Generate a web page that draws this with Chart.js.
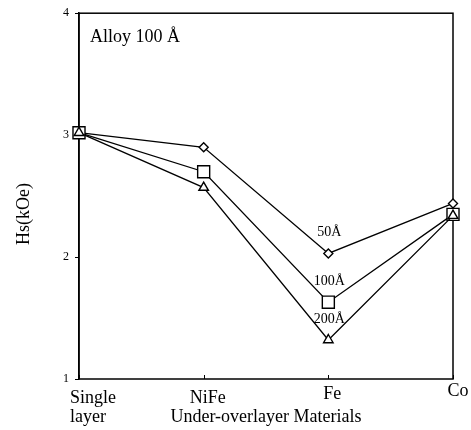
<!DOCTYPE html>
<html>
<head>
<meta charset="utf-8">
<script src="https://cdn.jsdelivr.net/npm/chart.js@4"></script>
<style>
  html, body { margin: 0; padding: 0; background: #fff; }
  #wrap { width: 471px; height: 430px; }
</style>
</head>
<body>
<div id="wrap"><canvas id="c" width="471" height="430"></canvas></div>
<script>
// Under/overlayer materials on the x axis, saturation field Hs (kOe) on y
const categories = ['Single layer', 'NiFe', 'Fe', 'Co'];
const categoryLines = [['Single', 'layer'], ['NiFe'], ['Fe'], ['Co']];
const hs50 = [3.02, 2.90, 2.03, 2.44];
const hs100 = [3.02, 2.70, 1.63, 2.35];
const hs200 = [3.02, 2.57, 1.32, 2.34];
const seriesLabels = ['50Å', '100Å', '200Å'];
const yTicks = [1, 2, 3, 4];
const panelTitle = 'Alloy 100 Å';
const xTitle = 'Under-overlayer Materials';
const yTitle = 'Hs(kOe)';

const SERIF = "'Liberation Serif', 'Times New Roman', serif";
const INK = '#000';

// Box around the plot area plus inward tick marks on the category axis
const framePlugin = {
  id: 'frame',
  beforeDatasetsDraw(chart) {
    const { ctx, chartArea: a, scales: { x } } = chart;
    ctx.save();
    ctx.strokeStyle = INK;
    ctx.lineWidth = 1.5;
    ctx.strokeRect(a.left, a.top, a.right - a.left, a.bottom - a.top);
    ctx.lineWidth = 1;
    categories.forEach((c, i) => {
      const px = Math.round(x.getPixelForValue(i)) + 0.5;
      ctx.beginPath();
      ctx.moveTo(px, a.bottom);
      ctx.lineTo(px, a.bottom - 4);
      ctx.stroke();
    });
    ctx.restore();
  }
};

// Category names, axis title, panel caption and thickness labels by the Fe points
const textPlugin = {
  id: 'texts',
  afterDatasetsDraw(chart) {
    const { ctx, chartArea: a, scales: { x } } = chart;
    ctx.save();
    ctx.fillStyle = INK;
    ctx.textBaseline = 'alphabetic';

    // category labels
    ctx.font = '18px ' + SERIF;
    const shifts = [[-9, 24, 'left'], [4, 24, 'center'], [4, 20, 'center'], [5, 17, 'center']];
    categoryLines.forEach((lines, i) => {
      const px = x.getPixelForValue(i);
      const [dx, dy, align] = shifts[i];
      ctx.textAlign = align;
      lines.forEach((t, k) => ctx.fillText(t, px + dx, a.bottom + dy + k * 19));
    });

    // rotated y-axis title, sitting a little below the plot's middle
    ctx.save();
    ctx.translate(24, (a.top + a.bottom) / 2 + 18);
    ctx.rotate(-Math.PI / 2);
    ctx.textAlign = 'center';
    ctx.textBaseline = 'middle';
    ctx.font = '18px ' + SERIF;
    ctx.fillText(yTitle, 0, 0);
    ctx.restore();

    // caption inside the plot
    ctx.textAlign = 'left';
    ctx.font = '18px ' + SERIF;
    ctx.fillText(panelTitle, a.left + 11, a.top + 29);

    // series labels above the Fe markers
    ctx.font = '14px ' + SERIF;
    ctx.textAlign = 'center';
    const fe = categories.indexOf('Fe');
    chart.data.datasets.forEach((ds, di) => {
      const pt = chart.getDatasetMeta(di).data[fe];
      ctx.fillText(ds.label, pt.x + 1, pt.y - 17);
    });
    ctx.restore();
  }
};

const common = {
  borderColor: INK,
  backgroundColor: '#fff',
  pointBorderColor: INK,
  pointBackgroundColor: '#fff',
  borderWidth: 1.3,
  pointBorderWidth: 1.4,
  tension: 0,
  clip: false
};

new Chart(document.getElementById('c'), {
  type: 'line',
  data: {
    labels: categories,
    datasets: [
      { ...common, label: seriesLabels[0], data: hs50, pointStyle: 'rectRot', pointRadius: 4.5, order: 3 },
      { ...common, label: seriesLabels[1], data: hs100, pointStyle: 'rect', pointRadius: 8.5, order: 2 },
      { ...common, label: seriesLabels[2], data: hs200, pointStyle: 'triangle', pointRadius: 5.5, order: 1 }
    ]
  },
  options: {
    responsive: false,
    animation: false,
    devicePixelRatio: 1,
    layout: { padding: { top: 10, right: 18, left: 0, bottom: 0 } },
    plugins: {
      legend: { display: false },
      tooltip: { enabled: false }
    },
    scales: {
      x: {
        type: 'category',
        offset: false,
        grid: { display: false },
        border: { display: false },
        ticks: { display: false },
        title: {
          display: true,
          text: xTitle,
          color: INK,
          font: { family: SERIF, size: 18 },
          padding: { top: 0, bottom: 2 }
        },
        afterFit(s) { s.height = 51; }
      },
      y: {
        min: 1,
        max: 4,
        afterBuildTicks(s) { s.ticks = yTicks.map(v => ({ value: v })); },
        ticks: {
          color: INK,
          font: { family: SERIF, size: 12 },
          padding: 6
        },
        grid: {
          drawOnChartArea: false,
          drawTicks: true,
          tickLength: 4,
          color: INK,
          lineWidth: 1
        },
        border: { display: true, color: INK, width: 1.5 },
        title: { display: false },
        afterFit(s) { s.width = 79; }
      }
    }
  },
  plugins: [framePlugin, textPlugin]
});
</script>
</body>
</html>
